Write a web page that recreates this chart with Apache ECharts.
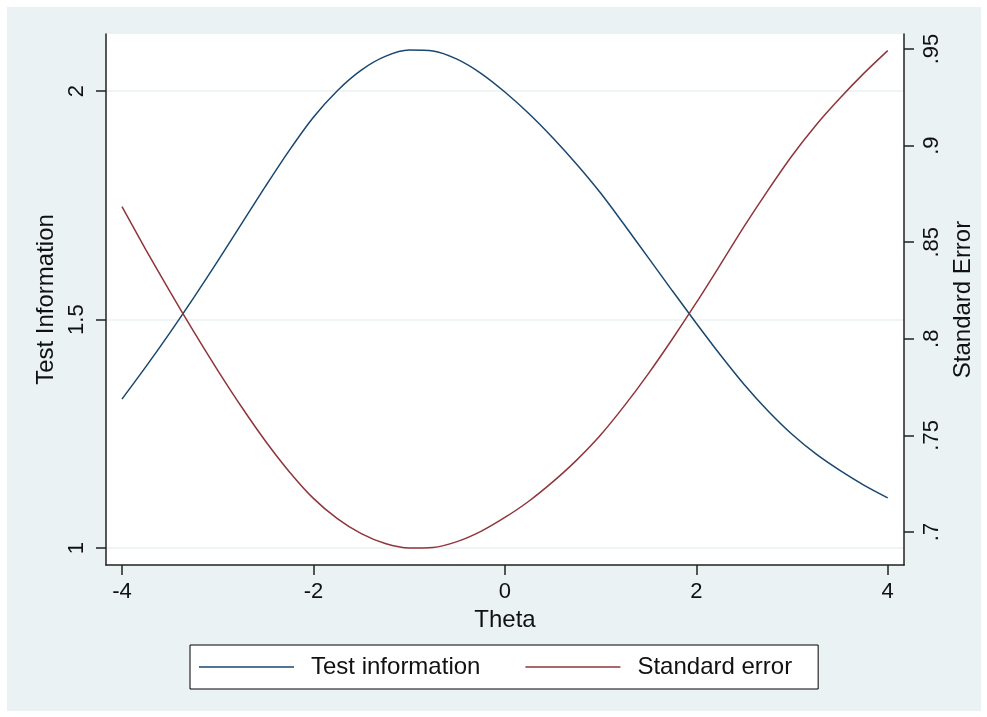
<!DOCTYPE html>
<html>
<head>
<meta charset="utf-8">
<script src="https://cdn.jsdelivr.net/npm/echarts@6/dist/echarts.min.js"></script>
<style>
  html, body { margin: 0; padding: 0; background: #fff; }
  #chart { width: 987px; height: 717px; }
</style>
</head>
<body>
<div id="chart"></div>
<script>
// values
const theta = [-4, -3.75, -3.5, -3.25, -3, -2.75, -2.5, -2.25, -2, -1.75, -1.5, -1.25, -1,
  -0.75, -0.5, -0.25, 0, 0.25, 0.5, 0.75, 1, 1.25, 1.5, 1.75, 2, 2.25, 2.5, 2.75, 3, 3.25, 3.5, 3.75, 4];
const testInfo = [1.326, 1.397, 1.471, 1.548, 1.628, 1.710, 1.792, 1.871, 1.943, 2.001, 2.046, 2.076, 2.090,
  2.088, 2.070, 2.039, 1.998, 1.951, 1.898, 1.840, 1.777, 1.707, 1.635, 1.563, 1.492, 1.423, 1.358, 1.300, 1.249, 1.206, 1.170, 1.138, 1.110];
const stdError = [0.8684, 0.8461, 0.8245, 0.8037, 0.7837, 0.7647, 0.7470, 0.7311, 0.7174, 0.7069, 0.6991, 0.6940, 0.6917,
  0.6920, 0.6950, 0.7003, 0.7075, 0.7159, 0.7259, 0.7372, 0.7502, 0.7654, 0.7820, 0.7999, 0.8187, 0.8383, 0.8582, 0.8770, 0.8948, 0.9106, 0.9245, 0.9374, 0.9492];
const xTicks = [-4, -2, 0, 2, 4];
const infoTicks = [1, 1.5, 2];
const seTicks = [0.7, 0.75, 0.8, 0.85, 0.9, 0.95];

const font = '"Liberation Sans", Arial, sans-serif';
const navy = "#1a476f";
const maroon = "#90353b";
const axisColor = "#222";

const chart = echarts.init(document.getElementById("chart"));

const option = {
  backgroundColor: "#fff",
  animation: false,
  textStyle: { fontFamily: font, color: "#111" },
  graphic: [
    {
      type: "rect",
      z: -100,
      shape: { x: 7, y: 7, width: 974, height: 704 },
      style: { fill: "#eaf2f3" },
      silent: true,
    },
  ],
  grid: {
    left: 106,
    right: 83,
    top: 34,
    bottom: 152,
    show: true,
    backgroundColor: "#fff",
    borderWidth: 0,
  },
  legend: {
    left: 190,
    top: 645,
    padding: [10, 26, 10, 9],
    backgroundColor: "#fff",
    borderColor: "#000",
    borderWidth: 1,
    borderRadius: 0,
    icon: "rect",
    itemWidth: 95,
    itemHeight: 1.5,
    itemGap: 45,
    textStyle: { fontFamily: font, fontSize: 24, color: "#111", padding: [0, 0, 0, 12] },
    data: ["Test information", "Standard error"],
  },
  xAxis: {
    type: "value",
    min: -4.167,
    max: 4.17,
    name: "Theta",
    nameLocation: "middle",
    nameGap: 40,
    nameTextStyle: { fontFamily: font, fontSize: 24, color: "#111" },
    axisLine: { show: true, onZero: false, lineStyle: { color: axisColor, width: 1.5 } },
    axisTick: { show: true, length: 10, customValues: xTicks, lineStyle: { color: axisColor, width: 1.5 } },
    axisLabel: { customValues: xTicks, margin: 16, fontSize: 22, color: "#111", fontFamily: font },
    splitLine: { show: false },
  },
  yAxis: [
    {
      type: "value",
      position: "left",
      min: 0.963,
      max: 2.125,
      name: "Test Information",
      nameLocation: "middle",
      nameGap: 45,
      nameTextStyle: { fontFamily: font, fontSize: 24, color: "#111" },
      axisLine: { show: true, onZero: false, lineStyle: { color: axisColor, width: 1.5 } },
      axisTick: { show: true, length: 10, customValues: infoTicks, lineStyle: { color: axisColor, width: 1.5 } },
      axisLabel: {
        customValues: infoTicks,
        rotate: 90,
        margin: 18,
        fontSize: 22,
        color: "#111",
        fontFamily: font,
        formatter: (v) => String(v),
      },
      splitLine: { show: true, lineStyle: { color: "#eaf2f3", width: 1.5 } },
    },
    {
      type: "value",
      position: "right",
      min: 0.6829,
      max: 0.9578,
      name: "Standard Error",
      nameLocation: "middle",
      nameGap: 35,
      nameTextStyle: { fontFamily: font, fontSize: 24, color: "#111" },
      axisLine: { show: true, onZero: false, lineStyle: { color: axisColor, width: 1.5 } },
      axisTick: { show: true, length: 10, customValues: seTicks, lineStyle: { color: axisColor, width: 1.5 } },
      axisLabel: {
        customValues: seTicks,
        rotate: 90,
        margin: 17,
        fontSize: 22,
        color: "#111",
        fontFamily: font,
        formatter: (v) => String(+v.toFixed(2)).replace(/^0\./, "."),
      },
      splitLine: { show: false },
    },
  ],
  series: [
    {
      name: "Test information",
      type: "line",
      yAxisIndex: 0,
      smooth: 0.3,
      showSymbol: false,
      data: theta.map((t, i) => [t, testInfo[i]]),
      lineStyle: { color: navy, width: 1.5 },
      itemStyle: { color: navy },
    },
    {
      name: "Standard error",
      type: "line",
      yAxisIndex: 1,
      smooth: 0.3,
      showSymbol: false,
      data: theta.map((t, i) => [t, stdError[i]]),
      lineStyle: { color: maroon, width: 1.5 },
      itemStyle: { color: maroon },
    },
  ],
};

chart.setOption(option);
</script>
</body>
</html>
